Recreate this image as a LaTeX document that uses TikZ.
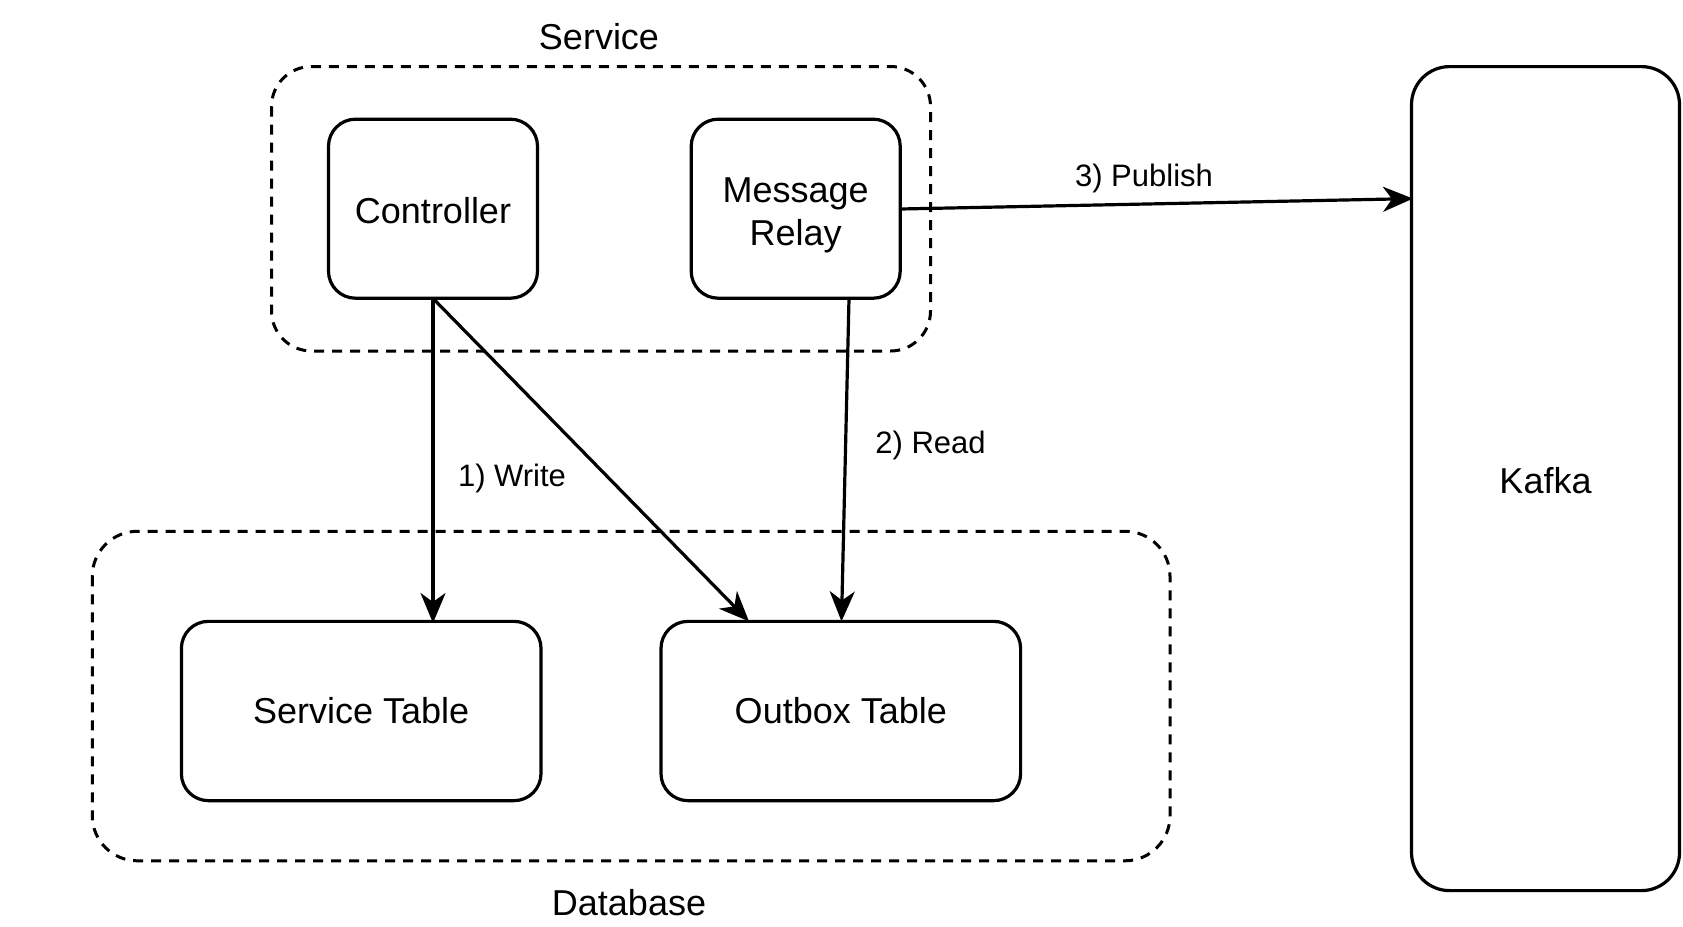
\documentclass[tikz,border=0pt]{standalone}
\usepackage{fontspec}
\setmainfont{Liberation Sans}
\usetikzlibrary{arrows.meta}
\begin{document}
\begin{tikzpicture}[x=1pt,y=-1pt,
  box/.style={draw,line width=3.2pt,rounded corners=27pt,inner sep=0pt,align=center,font=\fontsize{36}{43}\selectfont},
  group/.style={draw,line width=3pt,dash pattern=on 10pt off 8pt},
  lbl/.style={font=\fontsize{36}{43}\selectfont},
  elbl/.style={font=\fontsize{31}{37}\selectfont},
  arr/.style={line width=3.2pt,-{Stealth[length=30pt,width=25pt,inset=9pt]}}]
\useasboundingbox (0,0) rectangle (1683,926);
% groups
\draw[group,rounded corners=40pt] (271.5,66.5) rectangle (930.5,351);
\draw[group,rounded corners=45pt] (92.3,531.3) rectangle (1170,860.8);
\node[lbl] (svclbl) at (599,36.5) {Service};
\node[lbl] (dblbl) at (629,902.6) {Database};
% boxes
\node[box,minimum width=209pt,minimum height=179pt,text depth=0pt] (ctrl) at (433,208.7) {\raisebox{-4pt}{Controller}};
\node[box,minimum width=209pt,minimum height=179pt] (relay) at (795.7,208.7) {\rule{0pt}{38.6pt}Message\\Relay};
\node[box,minimum width=268pt,minimum height=824pt,rounded corners=38pt] (kafka) at (1545.5,478.6) {\rule{0pt}{30pt}Kafka};
\node[box,minimum width=359.6pt,minimum height=179.3pt] (stab) at (361.2,711) {Service Table};
\node[box,minimum width=359.6pt,minimum height=179.3pt] (otab) at (840.8,711) {Outbox Table};
% connectors
\coordinate (c1) at (433,298.4);
\coordinate (c2) at (433,623);
\coordinate (c3) at (749,621.4);
\coordinate (r1) at (849,298.4);
\coordinate (r2) at (841.5,621.4);
\coordinate (p1) at (900.5,209);
\coordinate (p2) at (1413,198.6);
\draw[arr] (c1) -- (c2);
\draw[arr] (c1) -- (c3);
\draw[arr] (r1) -- (r2);
\draw[arr] (p1) -- (p2);
\node[elbl] (wlbl) at (512,478.5) {1) Write};
\node[elbl] (rlbl) at (930.5,445.2) {2) Read};
\node[elbl] (plbl) at (1144,178) {3) Publish};
\end{tikzpicture}
\end{document}
